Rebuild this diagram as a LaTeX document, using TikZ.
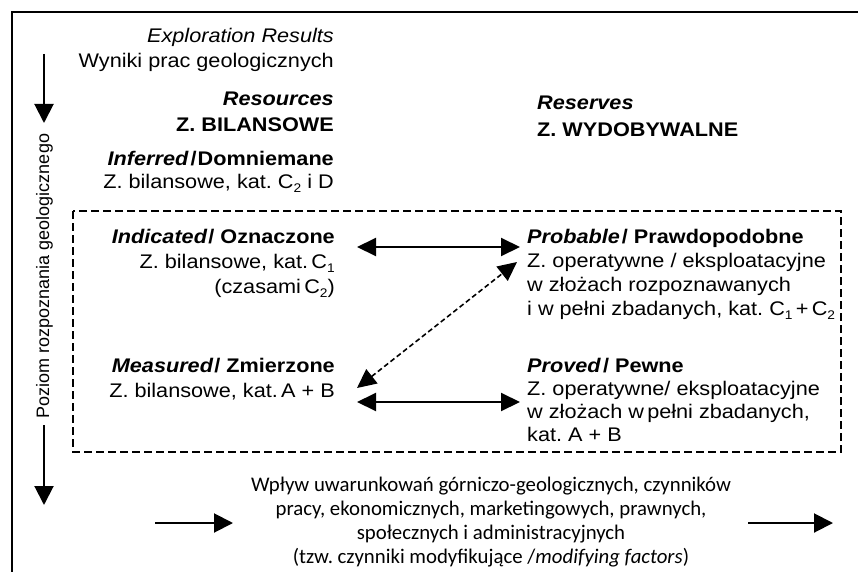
\documentclass[tikz,border=0pt]{standalone}
\usepackage{fontspec}
\setmainfont{Liberation Sans}[FakeStretch=1.1]
\newfontfamily\axisfont{Liberation Sans}
\newfontfamily\calfont{Carlito}
\usetikzlibrary{arrows.meta}
\newcommand{\sbs}[1]{\raisebox{-0.22em}{\fontsize{12.5}{13}\selectfont #1}}
\frenchspacing
\begin{document}
\frenchspacing
\begin{tikzpicture}[x=1pt,y=-1pt,
  blk/.style={inner sep=0pt, font=\fontsize{19.7}{#1}\selectfont\frenchspacing},
  frame/.style={line width=2pt},
  dbox/.style={line width=1.8pt, dash pattern=on 8pt off 4pt},
  arr/.style={line width=2pt, -{Triangle[length=19pt,width=19pt]}},
  dbl/.style={line width=2pt, {Triangle[length=19pt,width=18pt]}-{Triangle[length=19pt,width=18pt]}},
  ddbl/.style={line width=1.6pt, dash pattern=on 5pt off 3pt, {Triangle[length=19pt,width=18pt]}-{Triangle[length=19pt,width=18pt]}}]
\useasboundingbox (0,0) rectangle (858,572);
% outer frame (partly outside the picture)
\draw[frame] (12,580) -- (12,12) -- (870,12);
% dashed group box
\draw[dbox] (73,211) rectangle (841,452);
% left column
\node[blk=25, anchor=base east] (expl) at (334,43)
  {\begin{tabular}[t]{@{}r@{}}\textit{Exploration Results}\\ Wyniki prac geologicznych\end{tabular}};
\node[blk=26, anchor=base east] (res) at (334,106)
  {\begin{tabular}[t]{@{}r@{}}\textbf{\textit{Resources}}\\ \textbf{Z. BILANSOWE}\end{tabular}};
\node[blk=23, anchor=base east] (inf) at (334,165)
  {\begin{tabular}[t]{@{}r@{}}\textbf{\textit{Inferred}\kern2pt/\kern1pt Domniemane}\\ Z. bilansowe, kat. C\sbs{2} i D\end{tabular}};
\node[blk=25, anchor=base east] (ind) at (335,243)
  {\begin{tabular}[t]{@{}r@{}}\textbf{\textit{Indicated}\kern1pt/ Oznaczone}\\ Z. bilansowe, kat.\,C\sbs{1}\\ (czasami\,C\sbs{2})\end{tabular}};
\node[blk=25, anchor=base east] (mea) at (335,372)
  {\begin{tabular}[t]{@{}r@{}}\textbf{\textit{Measured}\kern1pt/ Zmierzone}\\ Z. bilansowe, kat.\,A + B\end{tabular}};
% right column
\node[blk=27, anchor=base west] (rsv) at (537,110)
  {\begin{tabular}[t]{@{}l@{}}\textbf{\textit{Reserves}}\\ \textbf{Z. WYDOBYWALNE}\end{tabular}};
\node[blk=24, anchor=base west] (prob) at (527,243)
  {\begin{tabular}[t]{@{}l@{}}\textbf{\textit{Probable}\kern2pt/ Prawdopodobne}\\ Z. operatywne / eksploatacyjne\\ w złożach rozpoznawanych\\ i w pełni zbadanych, kat. C\sbs{1}\,+\,C\sbs{2}\end{tabular}};
\node[blk=23.3, anchor=base west] (prov) at (527,372)
  {\begin{tabular}[t]{@{}l@{}}\textbf{\textit{Proved}\kern2pt/ Pewne}\\ Z. operatywne/ eksploatacyjne\\ w złożach w\,pełni zbadanych,\\ kat. A + B\end{tabular}};
% connector end points
\coordinate (indR) at (357,247);
\coordinate (probL) at (520,247);
\coordinate (meaR) at (357,402);
\coordinate (provL) at (520,402);
\coordinate (meaD) at (357,388);
\coordinate (probD) at (517,262);
\draw[dbl] (indR) -- (probL);
\draw[dbl] (meaR) -- (provL);
\draw[ddbl] (meaD) -- (probD);
% vertical axis
\node[rotate=90, anchor=base, inner sep=0pt, font=\axisfont\fontsize{18}{20}\selectfont] (axis) at (49,276) {Poziom rozpoznania geologicznego};
\coordinate (ax1) at (44,54);
\coordinate (ax2) at (44,123);
\coordinate (ax3) at (44,425);
\coordinate (ax4) at (44,505);
\draw[arr] (ax1) -- (ax2);
\draw[arr] (ax3) -- (ax4);
% modifying factors
\node[inner sep=0pt, anchor=base, font=\calfont\fontsize{20.8}{24.3}\selectfont\frenchspacing] (mod) at (491,491)
  {\begin{tabular}[t]{@{}c@{}}Wpływ uwarunkowań górniczo-geologicznych, czynników\\ pracy, ekonomicznych, marketingowych, prawnych,\\ społecznych i administracyjnych\\ (tzw. czynniki modyfikujące /\textit{modifying factors})\end{tabular}};
\coordinate (m1) at (155,523);
\coordinate (m2) at (233,523);
\coordinate (m3) at (748,523);
\coordinate (m4) at (833,523);
\draw[arr] (m1) -- (m2);
\draw[arr] (m3) -- (m4);
\end{tikzpicture}
\end{document}
